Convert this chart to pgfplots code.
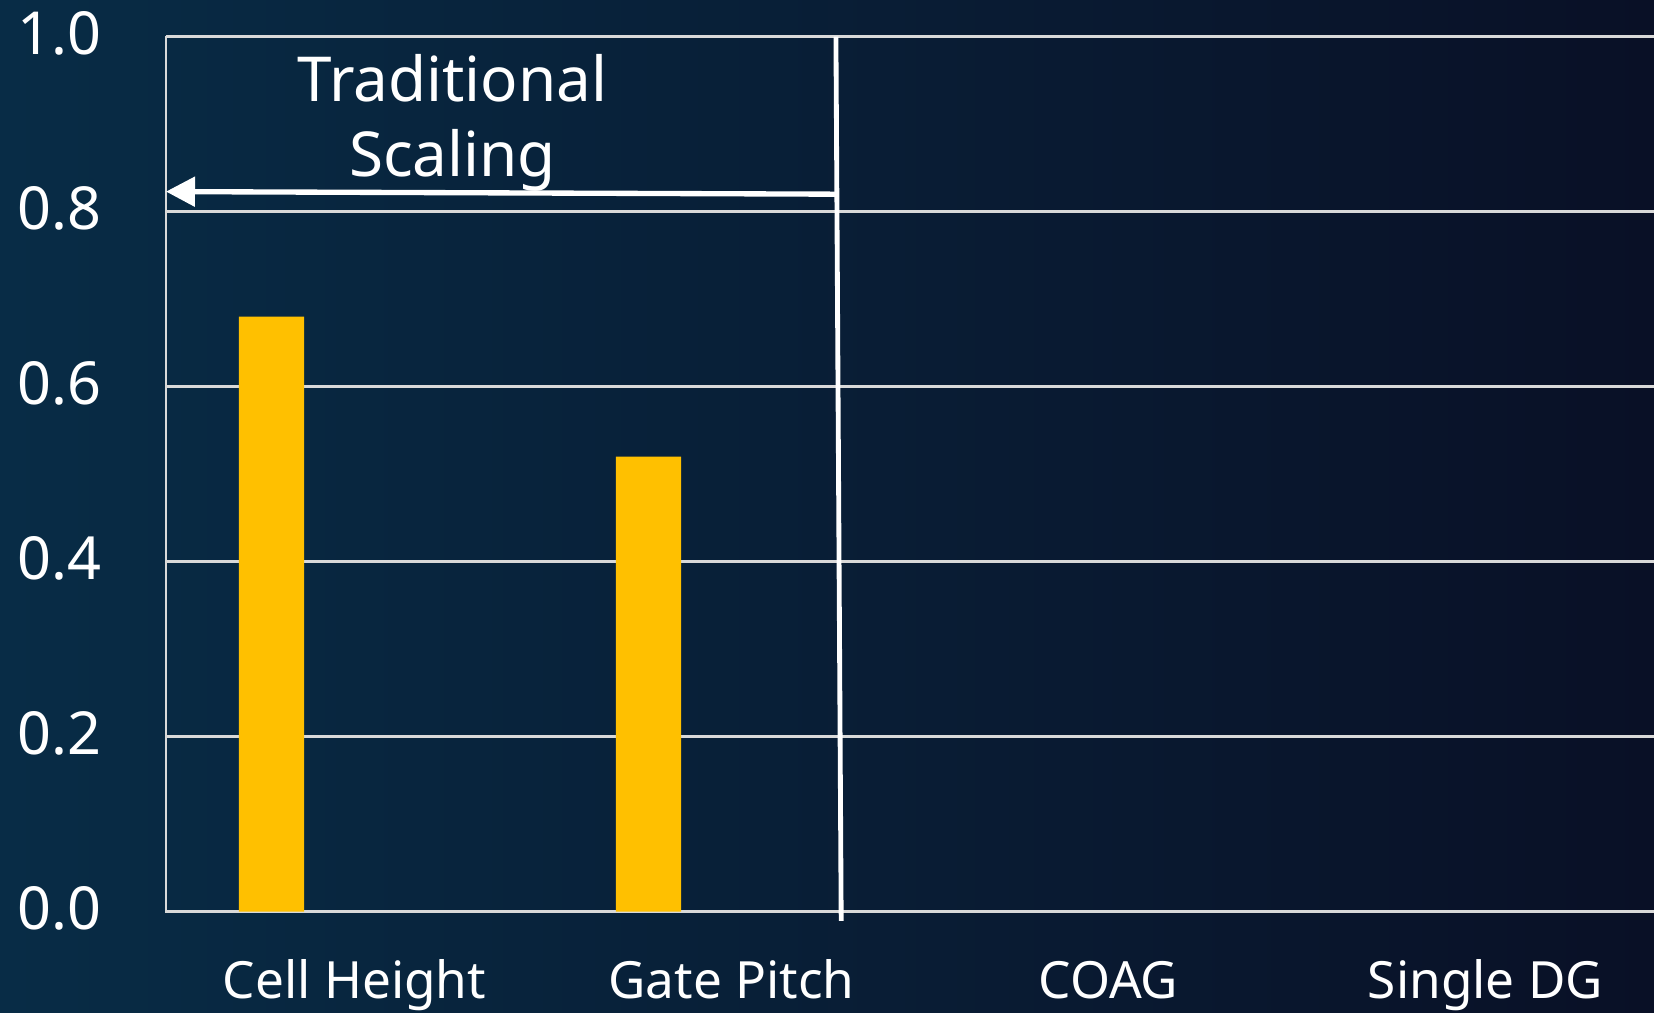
\documentclass[border=0pt]{standalone}
\usepackage{pgfplots}
\pgfplotsset{compat=1.18}
\usepackage{fontspec}
\setmainfont{Noto Sans}
\usetikzlibrary{arrows.meta}
\definecolor{baryellow}{HTML}{FFC000}
\definecolor{gridgray}{HTML}{D9D9D9}
\definecolor{bgleft}{RGB}{8,44,70}
\definecolor{bgmid}{RGB}{1,32,50}
\definecolor{bgright}{RGB}{9,16,38}
\begin{document}
\begin{tikzpicture}
\path[use as bounding box] (0,0) rectangle (496.2pt,303.6pt);
\clip (0,0) rectangle (496.2pt,303.6pt);
\shade[left color=bgleft, middle color=bgmid, right color=bgright] (0,0) rectangle (496.2pt,303.6pt);
\begin{axis}[
  at={(49.8pt,30.09pt)}, anchor=south west,
  scale only axis, width=452.4pt, height=262.5pt,
  xmin=-0.5, xmax=3.5, ymin=0, ymax=1,
  ytick={0,0.2,0.4,0.6,0.8,1},
  xtick={0,1,2,3},
  xticklabels={Cell Height, Gate Pitch, COAG, Single DG},
  ymajorgrids,
  grid style={gridgray, line width=0.8pt},
  axis line style={gridgray, line width=0.5pt},
  major tick length=0pt,
  tick style={draw=none},
  /pgf/number format/assume math mode=true,
  yticklabel style={font=\fontsize{17.8}{20}\selectfont, text=white, anchor=east, inner sep=0pt, xshift=-19.2pt, yshift=1pt,
    /pgf/number format/fixed, /pgf/number format/fixed zerofill, /pgf/number format/precision=1},
  xticklabel style={font=\fontsize{15.4}{18}\selectfont, text=white, anchor=base, inner sep=0pt, yshift=-26pt},
  clip=false,
]
\addplot[ybar, bar width=19.6pt, bar shift=-24.9pt, fill=baryellow, draw=none] coordinates {(0,0.68) (1,0.52)};
\draw[white, line width=1.45pt] (axis cs:1.277,1.0) -- (axis cs:1.291,-0.0106);
\draw[white, line width=1.6pt, -{Triangle[length=8.7pt,width=8.7pt]}] (axis cs:1.285,0.820) -- (axis cs:-0.5,0.823);
\node[white, anchor=base, inner sep=0pt, font=\fontsize{18.6}{22}\selectfont] at (axis cs:0.26,0.926) {Traditional};
\node[white, anchor=base, inner sep=0pt, font=\fontsize{18.6}{22}\selectfont] at (axis cs:0.26,0.840) {Scaling};
\end{axis}
\end{tikzpicture}
\end{document}
